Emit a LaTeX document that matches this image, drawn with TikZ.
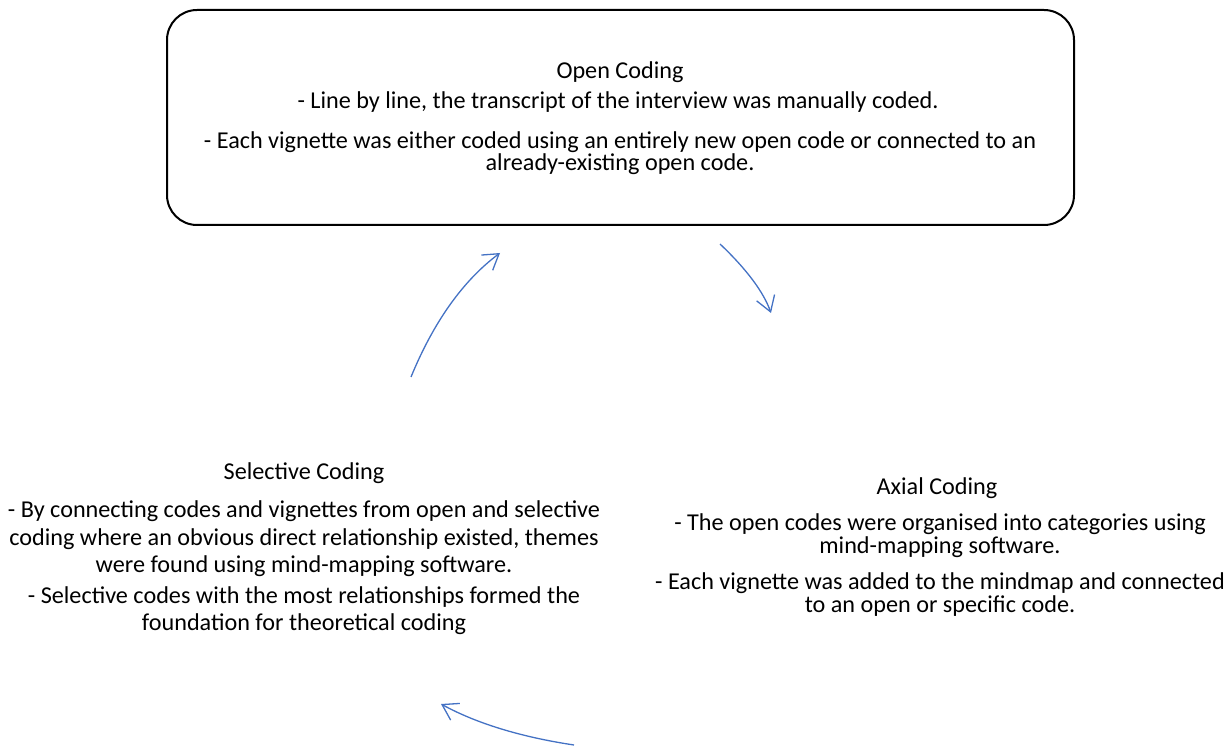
\documentclass[tikz,border=0pt]{standalone}
\usepackage{fontspec}
\setmainfont{Carlito}
\usetikzlibrary{arrows.meta}
\definecolor{arrowblue}{HTML}{4472C4}
\definecolor{txt}{HTML}{000000}
\tikzset{
  ln/.style={anchor=base, inner sep=0pt, font=\fontsize{24.2}{26}\selectfont, text=txt},
  cyclearrow/.style={draw=arrowblue, line width=1.3pt, -{Straight Barb[length=15pt, width=19pt, line width=1.3pt]}},
  openbox/.style={draw=black, line width=2pt, rounded corners=30pt, minimum width=907pt, minimum height=215pt, inner sep=0pt}
}
\begin{document}
\begin{tikzpicture}[x=1pt,y=-1pt]
\useasboundingbox (0,0) rectangle (1232,751);
% Open coding box
\node[openbox] (openbox) at (620.5,117.5) {};
\node[ln] (o1) at (620,79) {Open Coding};
\node[ln] (o2) at (618,109) {- Line by line, the transcript of the interview was manually coded.};
\node[ln] (o3) at (620,148.5) {- Each vignette was either coded using an entirely new open code or connected to an};
\node[ln] (o4) at (620,171) {already-existing open code.};
% Axial coding
\node[ln] (a1) at (937,494) {Axial Coding};
\node[ln] (a2) at (940,530) {- The open codes were organised into categories using};
\node[ln] (a3) at (940,553) {mind-mapping software.};
\node[ln] (a4) at (940,589) {- Each vignette was added to the mindmap and connected};
\node[ln] (a5) at (940,612) {to an open or specific code.};
% Selective coding
\node[ln] (s1) at (304,479) {Selective Coding};
\node[ln] (s2) at (304,517) {- By connecting codes and vignettes from open and selective};
\node[ln] (s3) at (304,545) {coding where an obvious direct relationship existed, themes};
\node[ln] (s4) at (304,572) {were found using mind-mapping software.};
\node[ln] (s5) at (304,603) {- Selective codes with the most relationships formed the};
\node[ln] (s6) at (304,630) {foundation for theoretical coding};
% arrow endpoints
\coordinate (oa1) at (720,244);
\coordinate (oa2) at (771,313);
\coordinate (as1) at (574,745);
\coordinate (as2) at (441,704);
\coordinate (so1) at (411,377);
\coordinate (so2) at (500,253);
\draw[cyclearrow] (oa1) .. controls (746.7,269.3) and (763.7,292.3) .. (oa2);
\draw[cyclearrow] (as1) .. controls (520.7,737) and (476.3,723.3) .. (as2);
\draw[cyclearrow] (so1) .. controls (433.7,321.7) and (463.3,280.3) .. (so2);
\end{tikzpicture}
\end{document}
